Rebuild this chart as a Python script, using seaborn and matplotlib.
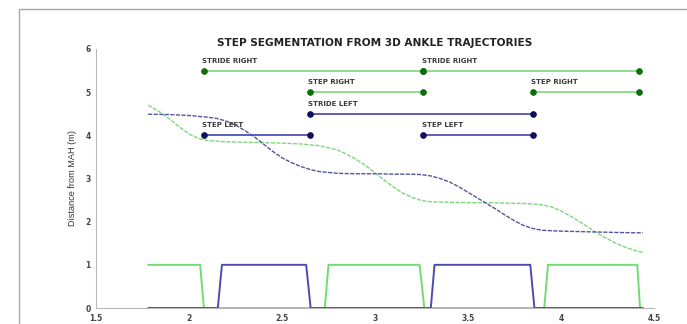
import seaborn as sns
import matplotlib.pyplot as plt
from matplotlib.patches import Rectangle

# ankle trajectories: distance from MAH (m) against time (s)
right_t = [1.78, 1.85, 1.9, 1.95, 2.0, 2.05, 2.1, 2.2, 2.3, 2.4, 2.5, 2.6, 2.7, 2.8, 2.85,
           2.9, 2.95, 3.0, 3.05, 3.1, 3.15, 3.2, 3.25, 3.3, 3.4, 3.5, 3.6, 3.7, 3.8, 3.85,
           3.9, 3.95, 4.0, 4.05, 4.1, 4.15, 4.2, 4.25, 4.3, 4.35, 4.4, 4.44]
right_d = [4.70, 4.52, 4.36, 4.19, 4.03, 3.93, 3.88, 3.85, 3.84, 3.83, 3.82, 3.80, 3.76, 3.66, 3.56,
           3.44, 3.30, 3.13, 2.96, 2.80, 2.66, 2.56, 2.49, 2.46, 2.45, 2.44, 2.44, 2.43, 2.42, 2.41,
           2.39, 2.34, 2.25, 2.13, 2.00, 1.86, 1.72, 1.60, 1.49, 1.40, 1.33, 1.29]

left_t = [1.78, 1.9, 2.0, 2.05, 2.1, 2.15, 2.2, 2.25, 2.3, 2.35, 2.4, 2.45, 2.5, 2.55, 2.6,
          2.65, 2.7, 2.8, 2.9, 3.0, 3.1, 3.2, 3.25, 3.3, 3.35, 3.4, 3.45, 3.5, 3.55, 3.6,
          3.65, 3.7, 3.75, 3.8, 3.85, 3.9, 4.0, 4.1, 4.2, 4.3, 4.44]
left_d = [4.49, 4.48, 4.46, 4.44, 4.42, 4.39, 4.33, 4.24, 4.11, 3.97, 3.80, 3.63, 3.48, 3.37, 3.28,
          3.21, 3.16, 3.12, 3.11, 3.11, 3.10, 3.10, 3.09, 3.06, 3.00, 2.92, 2.81, 2.68, 2.55, 2.42,
          2.29, 2.15, 2.02, 1.91, 1.84, 1.80, 1.78, 1.77, 1.76, 1.75, 1.74]

# foot contact signals (1 = contact)
right_contact_t = [1.78, 2.06, 2.08, 2.73, 2.75, 3.24, 3.265, 3.91, 3.93, 4.41, 4.425, 4.44]
right_contact = [1, 1, 0, 0, 1, 1, 0, 0, 1, 1, 0, 0]
left_contact_t = [1.78, 2.155, 2.177, 2.63, 2.654, 3.30, 3.32, 3.835, 3.857, 4.44]
left_contact = [0, 0, 1, 1, 0, 0, 1, 1, 0, 0]

# step / stride segments
seg_labels = ["STRIDE RIGHT", "STRIDE RIGHT", "STEP RIGHT", "STEP RIGHT",
              "STRIDE LEFT", "STEP LEFT", "STEP LEFT"]
seg_start = [2.08, 3.26, 2.65, 3.85, 2.65, 2.08, 3.26]
seg_end = [3.26, 4.42, 3.26, 4.42, 3.85, 2.65, 3.85]
seg_level = [5.5, 5.5, 5.0, 5.0, 4.5, 4.0, 4.0]
seg_side = ["R", "R", "R", "R", "L", "L", "L"]

x_ticks = [1.5, 2, 2.5, 3, 3.5, 4, 4.5]
x_tick_labels = ["1.5", "2", "2.5", "3", "3.5", "4", "4.5"]
y_ticks = [0, 1, 2, 3, 4, 5, 6]

green = "#72dc72"
blue = "#4b4bb4"
dark_green = "#0c6e0c"
navy = "#0f0f5a"

sns.set_style("white")
plt.rcParams['font.family'] = ['DejaVu Sans']

fig = plt.figure(figsize=(6.87, 3.24), dpi=100)
ax = fig.add_axes([96 / 687, 16 / 324, 558 / 687, 259 / 324])

# grey frame around the plot, open at the right and bottom edge
fig.add_artist(Rectangle((19 / 687, -0.2), 1.2, (324 - 9) / 324 + 0.2,
                         transform=fig.transFigure, fill=False,
                         edgecolor="#a8a8a8", linewidth=1.0))

sns.lineplot(x=right_t, y=right_d, ax=ax, color="#7fd67f", linewidth=1.0,
             linestyle=(0, (3, 1)), sort=False, estimator=None)
sns.lineplot(x=left_t, y=left_d, ax=ax, color="#55559e", linewidth=1.0,
             linestyle=(0, (3, 1)), sort=False, estimator=None)

sns.lineplot(x=right_contact_t, y=right_contact, ax=ax, color=green, linewidth=1.4,
             sort=False, estimator=None)
sns.lineplot(x=left_contact_t, y=left_contact, ax=ax, color=blue, linewidth=1.4,
             sort=False, estimator=None)

for lab, s, e, lev, side in zip(seg_labels, seg_start, seg_end, seg_level, seg_side):
    lc = "#86da86" if side == "R" else "#5050b8"
    mc = dark_green if side == "R" else navy
    sns.lineplot(x=[s, e], y=[lev, lev], ax=ax, color=lc, linewidth=1.3,
                 marker="o", markersize=4, markerfacecolor=mc, markeredgecolor=mc,
                 sort=False, estimator=None)
    ax.text(s - 0.01, lev + 0.16, lab, fontsize=5.0, fontweight="bold", color="#3a3a3a",
            ha="left", va="bottom")

ax.set_xlim(1.5, 4.5)
ax.set_ylim(0, 6)
ax.set_xticks(x_ticks)
ax.set_xticklabels(x_tick_labels)
ax.set_yticks(y_ticks)
ax.tick_params(direction="in", length=3, width=0.6, colors="#b0b0b0",
               labelcolor="#444444", labelsize=5.5, pad=4)
for lbl in ax.get_xticklabels() + ax.get_yticklabels():
    lbl.set_fontweight("bold")
for side in ["top", "right"]:
    ax.spines[side].set_visible(False)
for side in ["left", "bottom"]:
    ax.spines[side].set_color("#b8b8b8")
    ax.spines[side].set_linewidth(0.8)

ax.set_title("STEP SEGMENTATION FROM 3D ANKLE TRAJECTORIES", fontsize=7.6,
             fontweight="bold", color="#222222", pad=2)
ax.set_ylabel("Distance from MAH (m)", fontsize=6.6, color="#333333", labelpad=6,
              family="Liberation Sans")
ax.set_xlabel("Time (sec)", fontsize=7, fontweight="bold", color="#333333", labelpad=3)

fig.savefig("out.png", dpi=100)
